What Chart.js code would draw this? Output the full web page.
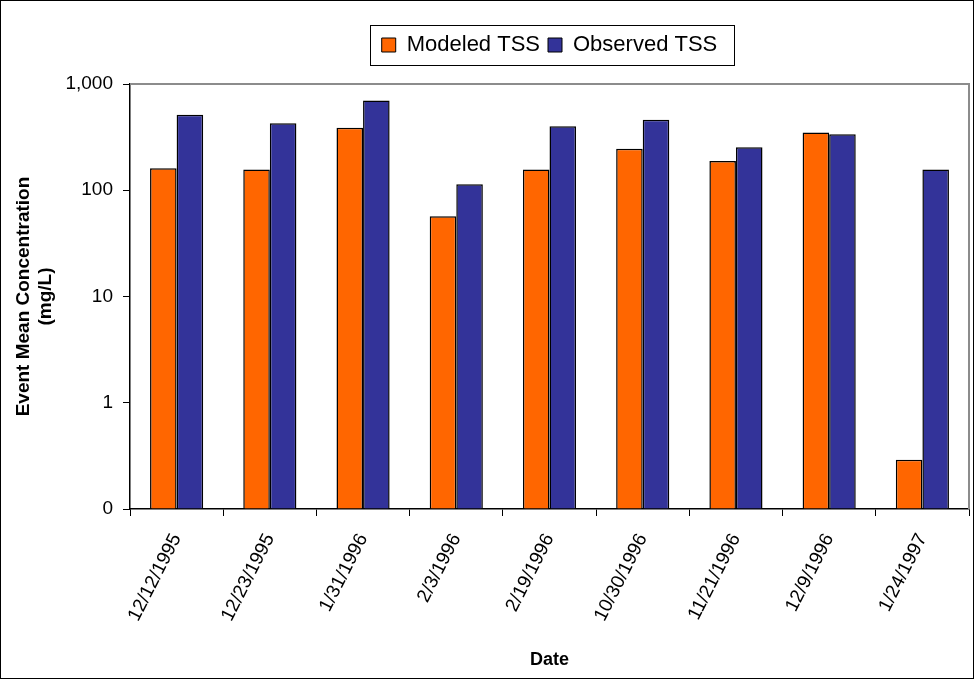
<!DOCTYPE html>
<html>
<head>
<meta charset="utf-8">
<script src="https://cdn.jsdelivr.net/npm/chart.js@4"></script>
<style>
  html, body { margin: 0; padding: 0; background: #fff; }
  #wrap { width: 974px; height: 679px; position: relative; }
</style>
</head>
<body>
<div id="wrap"><canvas id="c" width="974" height="679"></canvas></div>
<script>
const categories = ["12/12/1995", "12/23/1995", "1/31/1996", "2/3/1996", "2/19/1996", "10/30/1996", "11/21/1996", "12/9/1996", "1/24/1997"];
const modeledTSS = [161, 157, 387, 57, 157, 246, 188, 350, 0.29];
const observedTSS = [513, 428, 700, 114, 401, 461, 254, 337, 157];
const yTickValues = [0.1, 1, 10, 100, 1000];
const yTickLabels = ["0", "1", "10", "100", "1,000"];

const FONT = "'Liberation Sans', Arial, sans-serif";

const framePlugin = {
  id: 'frame',
  beforeDraw(chart) {
    const ctx = chart.ctx;
    ctx.save();
    ctx.fillStyle = '#fff';
    ctx.fillRect(0, 0, chart.width, chart.height);
    ctx.restore();
  },
  afterDraw(chart) {
    const ctx = chart.ctx;
    const a = chart.chartArea;
    ctx.save();
    // outer frame
    ctx.strokeStyle = '#000';
    ctx.lineWidth = 1;
    ctx.strokeRect(0.5, 0.5, chart.width - 1, chart.height - 1);
    // plot area top/right border
    ctx.strokeStyle = '#8c8c8c';
    ctx.lineWidth = 2;
    ctx.beginPath();
    ctx.moveTo(a.left, a.top);
    ctx.lineTo(a.right, a.top);
    ctx.lineTo(a.right, a.bottom);
    ctx.stroke();
    // legend box
    const lg = chart.legend;
    if (lg && lg.legendHitBoxes && lg.legendHitBoxes.length) {
      const hb = lg.legendHitBoxes;
      let l = Infinity, t = Infinity, r = -Infinity, b = -Infinity;
      hb.forEach(h => { l = Math.min(l, h.left); t = Math.min(t, h.top); r = Math.max(r, h.left + h.width); b = Math.max(b, h.top + h.height); });
      const cy = (t + b) / 2;
      ctx.strokeStyle = '#000';
      ctx.lineWidth = 1;
      ctx.strokeRect(Math.round(l - 12) + 0.5, Math.round(cy - 20) + 0.5, Math.round(r - l + 28), 40);
    }
    ctx.restore();
  }
};

new Chart(document.getElementById('c'), {
  type: 'bar',
  data: {
    labels: categories,
    datasets: [
      { label: 'Modeled TSS', data: modeledTSS, backgroundColor: '#ff6600', borderColor: '#000', borderWidth: 1.5, borderSkipped: 'bottom' },
      { label: 'Observed TSS', data: observedTSS, backgroundColor: '#333399', borderColor: '#000', borderWidth: 1.5, borderSkipped: 'bottom' }
    ]
  },
  options: {
    responsive: false,
    animation: false,
    layout: { padding: { left: 12, right: 5, top: 26, bottom: 8 } },
    datasets: { bar: { categoryPercentage: 0.57, barPercentage: 1.0, base: 0.1 } },
    plugins: {
      legend: {
        position: 'top',
        fullSize: false,
        labels: {
          font: { family: FONT, size: 22 },
          color: '#000',
          boxWidth: 14,
          boxHeight: 14,
          padding: 8,
          generateLabels(chart) {
            return chart.data.datasets.map((d, i) => ({
              text: d.label, fillStyle: d.backgroundColor, strokeStyle: '#000', lineWidth: 1, datasetIndex: i, fontColor: '#000'
            }));
          }
        }
      },
      title: {
        display: true,
        text: '',
        weight: 500,
        position: 'top',
        fullSize: false,
        font: { family: FONT, size: 10 },
        padding: { top: 0, bottom: 6 }
      },
      tooltip: { enabled: false }
    },
    scales: {
      x: {
        offset: true,
        grid: { display: true, drawOnChartArea: false, color: '#000', tickColor: '#000', tickLength: 7, offset: true },
        border: { color: '#000', width: 1.5 },
        ticks: { font: { family: FONT, size: 19 }, color: '#000', minRotation: 63, maxRotation: 63, padding: 14 },
        title: { display: true, text: 'Date', font: { family: FONT, size: 18, weight: 'bold' }, color: '#000', padding: { top: 4, bottom: 0 } },
        afterFit(s) { s.height = 162; }
      },
      y: {
        type: 'logarithmic',
        min: 0.1,
        max: 1000,
        grid: { display: true, drawOnChartArea: false, color: '#000', tickColor: '#000', tickLength: 7 },
        border: { color: '#000', width: 1.5 },
        afterBuildTicks(s) { s.ticks = yTickValues.map(v => ({ value: v })); },
        ticks: {
          font: { family: FONT, size: 19 },
          color: '#000',
          padding: 10,
          callback(v) { const i = yTickValues.indexOf(v); return i >= 0 ? yTickLabels[i] : ''; }
        },
        title: { display: true, text: ['Event Mean Concentration', '(mg/L)'], font: { family: FONT, size: 19, weight: 'bold' }, color: '#000', padding: { top: 0, bottom: 4 } },
        afterFit(s) { s.width = 118; }
      }
    }
  },
  plugins: [framePlugin]
});
</script>
</body>
</html>
